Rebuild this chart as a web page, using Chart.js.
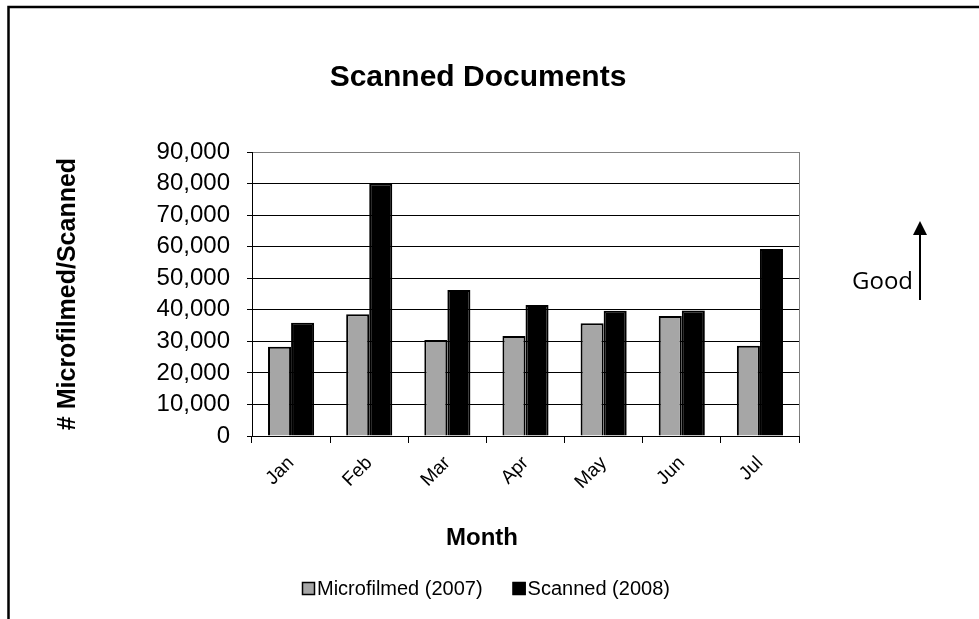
<!DOCTYPE html>
<html>
<head>
<meta charset="utf-8">
<title>Scanned Documents</title>
<script src="https://cdn.jsdelivr.net/npm/chart.js@4.4.1/dist/chart.umd.min.js"></script>
<style>
  body { margin: 0; background: #fff; }
  canvas { display: block; }
</style>
</head>
<body>
<canvas id="scanChart" width="979" height="619"></canvas>
<script>
const months = ['Jan', 'Feb', 'Mar', 'Apr', 'May', 'Jun', 'Jul'];
const microfilmed2007 = [28300, 38600, 30400, 31700, 35700, 38000, 28600];
const scanned2008 = [35900, 80000, 46300, 41500, 39700, 39800, 59300];
const seriesNames = ['Microfilmed (2007)', 'Scanned (2008)'];
const yTicks = [0, 10000, 20000, 30000, 40000, 50000, 60000, 70000, 80000, 90000];

const FONT = "Arial, 'Liberation Sans', sans-serif";

// frame, plot border, x title, legend and the "Good" arrow
const extrasPlugin = {
    id: 'extras',
    afterDraw: function (chart) {
        const ctx = chart.ctx;
        const area = chart.chartArea;
        ctx.save();

        // outer frame (cut off at right/bottom)
        ctx.strokeStyle = '#000';
        ctx.lineWidth = 2.5;
        ctx.strokeRect(8.5, 7, 1000, 700);

        // right border of plot area
        ctx.strokeStyle = '#808080';
        ctx.lineWidth = 1;
        ctx.beginPath();
        ctx.moveTo(area.right + 0.5, area.top);
        ctx.lineTo(area.right + 0.5, area.bottom);
        ctx.stroke();

        // x axis title
        ctx.fillStyle = '#000';
        ctx.font = 'bold 24px ' + FONT;
        ctx.textAlign = 'center';
        ctx.textBaseline = 'middle';
        ctx.fillText('Month', 482, 538);

        // legend
        ctx.font = '20px ' + FONT;
        ctx.textAlign = 'left';
        let x = 302;
        chart.data.datasets.forEach(function (ds) {
            ctx.fillStyle = ds.backgroundColor;
            ctx.fillRect(x, 582, 13, 13);
            ctx.strokeStyle = '#000';
            ctx.lineWidth = 1.5;
            ctx.strokeRect(x + 0.5, 582.5, 12, 12);
            ctx.fillStyle = '#000';
            ctx.fillText(ds.label, x + 15, 589);
            x += 15 + ctx.measureText(ds.label).width + 30;
        });

        // "Good" note with arrow
        ctx.font = "24px 'Open Sans', sans-serif";
        ctx.textAlign = 'right';
        ctx.textBaseline = 'alphabetic';
        ctx.fillStyle = '#000';
        ctx.fillText('Good', 913, 289);
        ctx.strokeStyle = '#000';
        ctx.lineWidth = 2;
        ctx.beginPath();
        ctx.moveTo(920, 300);
        ctx.lineTo(920, 232);
        ctx.stroke();
        ctx.beginPath();
        ctx.moveTo(920, 221);
        ctx.lineTo(927, 235);
        ctx.lineTo(913, 235);
        ctx.closePath();
        ctx.fill();

        ctx.restore();
    }
};

const chartConfig = {
    type: 'bar',
    data: {
        labels: months,
        datasets: [{
            label: seriesNames[0],
            data: microfilmed2007,
            backgroundColor: '#a6a6a6',
            borderColor: '#000',
            borderWidth: 2,
            categoryPercentage: 0.59,
            barPercentage: 1.0
        }, {
            label: seriesNames[1],
            data: scanned2008,
            backgroundColor: '#000',
            borderColor: '#000',
            borderWidth: 2,
            categoryPercentage: 0.59,
            barPercentage: 1.0
        }]
    },
    options: {
        responsive: false,
        animation: false,
        layout: {
            padding: { left: 0, right: 23, top: 0, bottom: 0 }
        },
        scales: {
            x: {
                grid: {
                    offset: true,
                    drawOnChartArea: false,
                    drawTicks: true,
                    tickLength: 7,
                    color: '#000'
                },
                border: { display: true, color: '#000', width: 1 },
                ticks: {
                    color: '#000',
                    font: { family: FONT, size: 19 },
                    maxRotation: 45,
                    minRotation: 45,
                    autoSkip: false,
                    padding: 9
                },
                afterFit: function (scale) {
                    scale.height = 183; // keeps plot bottom at y=436
                }
            },
            y: {
                min: 0,
                max: 90000,
                afterBuildTicks: function (scale) {
                    scale.ticks = yTicks.map(function (v) { return { value: v }; });
                },
                grid: {
                    color: function (c) {
                        return c.tick && c.tick.value === 90000 ? '#808080' : '#000';
                    },
                    tickColor: '#000',
                    tickLength: 5,
                    lineWidth: 1
                },
                border: { display: true, color: '#000', width: 1 },
                ticks: {
                    color: '#000',
                    font: { family: FONT, size: 24 },
                    padding: 17,
                    autoSkip: false,
                    callback: function (v) { return v.toLocaleString('en-US'); }
                },
                title: {
                    display: true,
                    text: '# Microfilmed/Scanned',
                    color: '#000',
                    font: { family: FONT, size: 25, weight: 'bold' },
                    padding: { top: 53, bottom: 0 }
                },
                afterFit: function (scale) {
                    scale.width = 252;
                }
            },
            yr: {
                type: 'linear',
                position: 'right',
                display: true,
                grid: { display: false },
                border: { display: false },
                ticks: { display: false },
                afterFit: function (scale) {
                    scale.width = 157; // room for the "Good" note
                }
            }
        },
        plugins: {
            legend: { display: false },
            tooltip: { enabled: false },
            title: {
                display: true,
                text: 'Scanned Documents',
                color: '#000',
                font: { family: FONT, size: 30, weight: 'bold' },
                padding: { top: 60, bottom: 56 }
            }
        }
    },
    plugins: [extrasPlugin]
};

const ctx = document.getElementById('scanChart').getContext('2d');
const scanChart = new Chart(ctx, chartConfig);
</script>
</body>
</html>
